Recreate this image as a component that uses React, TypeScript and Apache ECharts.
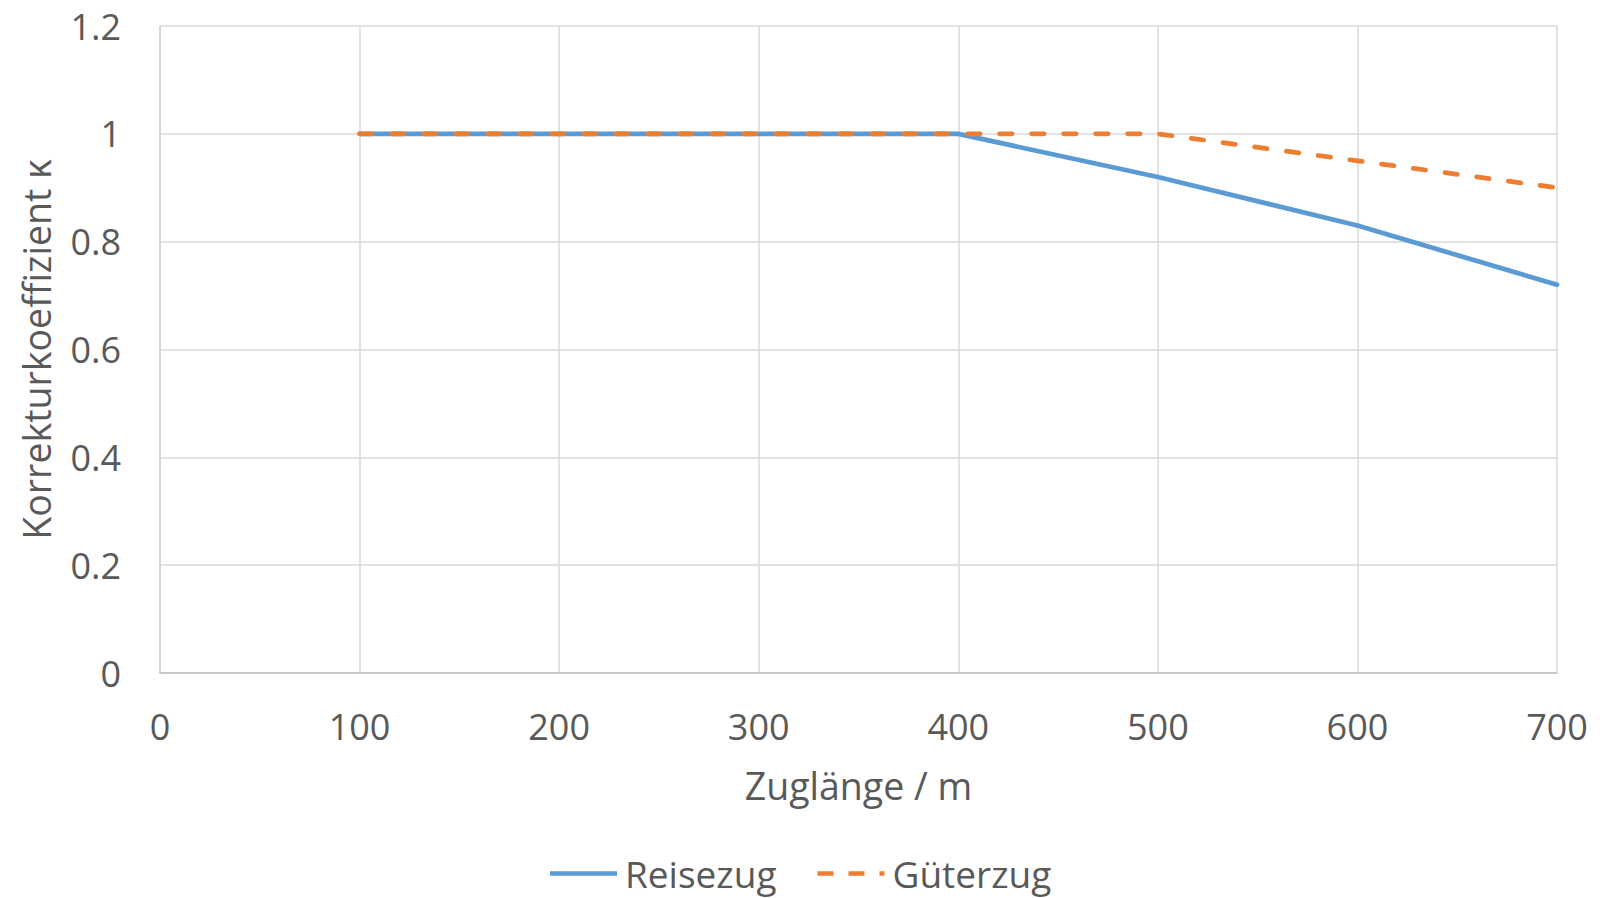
import React, { useEffect, useRef } from "react";
import * as echarts from "echarts";

const zuglaenge = [100, 200, 300, 400, 500, 600, 700];
const reisezug = [1, 1, 1, 1, 0.92, 0.83, 0.72];
const gueterzug = [1, 1, 1, 1, 1, 0.95, 0.9];
const seriesNames = ["Reisezug", "Güterzug"];
const xTitle = "Zuglänge / m";
const yTitle = "Korrekturkoeffizient κ";

export default function App() {
  const ref = useRef<HTMLDivElement>(null);
  useEffect(() => {
    document.body.style.margin = "0";
    const chart = echarts.init(ref.current!, null, { renderer: "svg" });
    const font = "'Open Sans', 'Noto Sans', sans-serif";
    const textColor = "#595959";
    chart.setOption({
      animation: false,
      backgroundColor: "#ffffff",
      textStyle: { fontFamily: font, color: textColor },
      grid: { left: 160, right: 54, top: 26, bottom: 225, containLabel: false },
      xAxis: {
        type: "value",
        min: 0,
        max: 700,
        interval: 100,
        name: xTitle,
        nameLocation: "middle",
        nameGap: 93,
        nameTextStyle: { fontSize: 37.5, color: textColor, fontFamily: font },
        axisLine: { show: true, lineStyle: { color: "#BFBFBF", width: 1.5 } },
        axisTick: { show: false },
        axisLabel: { fontSize: 36, color: textColor, fontFamily: font, margin: 35 },
        splitLine: { show: true, lineStyle: { color: "#D9D9D9", width: 1.5 } },
      },
      yAxis: {
        type: "value",
        min: 0,
        max: 1.2,
        interval: 0.2,
        name: yTitle,
        nameLocation: "middle",
        nameGap: 105,
        nameTextStyle: { fontSize: 37.5, color: textColor, fontFamily: font },
        axisLine: { show: true, lineStyle: { color: "#D0D0D0", width: 1.5 } },
        axisTick: { show: false },
        axisLabel: { fontSize: 36, color: textColor, fontFamily: font, margin: 39 },
        splitLine: { show: true, lineStyle: { color: "#D9D9D9", width: 1.5 } },
      },
      legend: {
        left: 545,
        top: 850,
        itemWidth: 67,
        itemHeight: 4.6,
        itemGap: 41,
        symbolKeepAspect: false,
        itemStyle: { borderWidth: 0 },
        textStyle: { fontSize: 37, color: textColor, fontFamily: font, padding: [0, 0, 0, 3] },
        data: [
          { name: seriesNames[0], icon: "path://M0,0h67v1h-67z" },
          { name: seriesNames[1], icon: "path://M0,0h16v1h-16z M31,0h16v1h-16z M62,0h5v1h-5z" },
        ],
      },
      series: [
        {
          name: seriesNames[0],
          type: "line",
          data: zuglaenge.map((x, i) => [x, reisezug[i]]),
          showSymbol: false,
          symbol: "none",
          lineStyle: { color: "#5B9BD5", width: 4.75, cap: "round", join: "round" },
          itemStyle: { color: "#5B9BD5" },
        },
        {
          name: seriesNames[1],
          type: "line",
          data: zuglaenge.map((x, i) => [x, gueterzug[i]]),
          showSymbol: false,
          symbol: "none",
          lineStyle: { color: "#ED7D31", width: 4.75, type: [12.5, 19.5], cap: "round", join: "round" },
          itemStyle: { color: "#ED7D31" },
        },
      ],
    });
    return () => chart.dispose();
  }, []);
  return <div ref={ref} style={{ width: 1611, height: 898 }} />;
}
